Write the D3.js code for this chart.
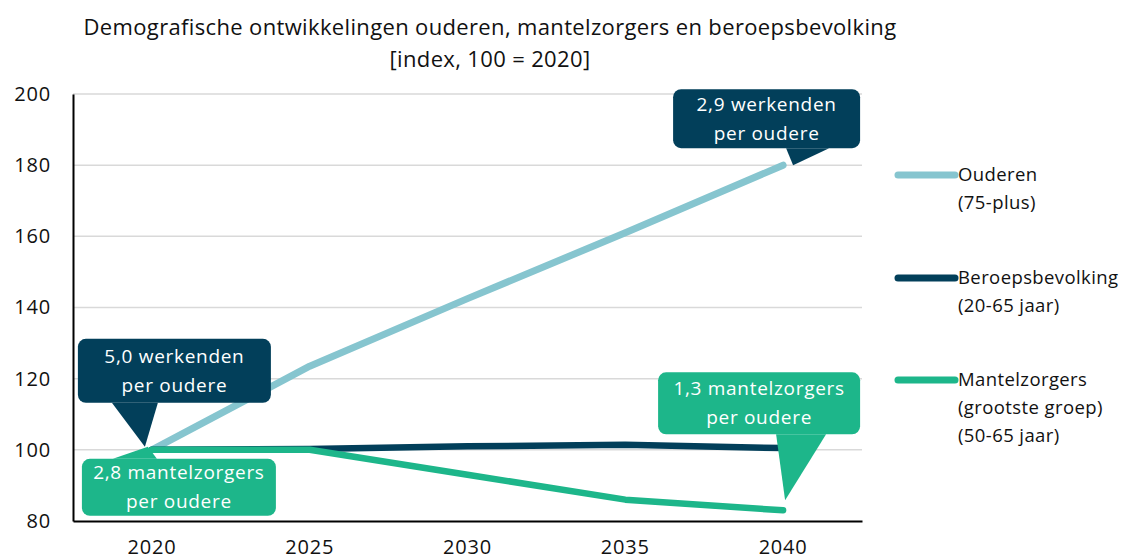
<!DOCTYPE html>
<html>
<head>
<meta charset="utf-8">
<script src="https://cdn.jsdelivr.net/npm/d3@7"></script>
<style>
  body { margin: 0; background: #fff; }
  svg { font-family: "Open Sans", Lato, sans-serif; }
</style>
</head>
<body>
<svg width="1130" height="560"></svg>
<script>
const years = ["2020", "2025", "2030", "2035", "2040"];
const ouderen = [100, 123.5, 142.5, 161, 180];
const beroeps = [100, 100.2, 101, 101.4, 100.5];
const mantel = [100, 100, 93, 86, 83];
const yTicks = [80, 100, 120, 140, 160, 180, 200];

const titleLines = [
  "Demografische ontwikkelingen ouderen, mantelzorgers en beroepsbevolking",
  "[index, 100 = 2020]"
];
const legendLines = [
  ["Ouderen", "(75-plus)"],
  ["Beroepsbevolking", "(20-65 jaar)"],
  ["Mantelzorgers", "(grootste groep)", "(50-65 jaar)"]
];
const colors = ["#86c5cf", "#023f5a", "#1db68a"];

const svg = d3.select("svg");
const margin = { left: 73, right: 862, top: 94, bottom: 521 };
const font = "'Open Sans', Lato, sans-serif";

const x = d3.scaleBand()
  .domain(years)
  .range([margin.left, margin.right]);

const y = d3.scaleLinear()
  .domain([80, 200])
  .range([margin.bottom, margin.top]);

const cx = d => x(d) + x.bandwidth() / 2;

// Title
svg.append("g")
  .selectAll("text")
  .data(titleLines)
  .enter()
  .append("text")
  .attr("x", 490)
  .attr("y", (d, i) => 35 + i * 32)
  .attr("text-anchor", "middle")
  .attr("font-size", 22)
  .attr("letter-spacing", 0.35)
  .attr("fill", "#111")
  .text(d => d);

// Gridlines
svg.append("g")
  .selectAll("line")
  .data(yTicks.slice(1))
  .enter()
  .append("line")
  .attr("x1", margin.left)
  .attr("x2", margin.right)
  .attr("y1", d => y(d))
  .attr("y2", d => y(d))
  .attr("stroke", "#d9d9d9")
  .attr("stroke-width", 1.5);

// Axes
const yAxis = d3.axisLeft(y)
  .tickValues(yTicks)
  .tickSize(0)
  .tickPadding(22);

const xAxis = d3.axisBottom(x)
  .tickSize(0)
  .tickPadding(19);

const gy = svg.append("g")
  .attr("transform", `translate(${margin.left},0)`)
  .call(yAxis);
gy.select(".domain").attr("stroke", "#000").attr("stroke-width", 2);
gy.selectAll("text").attr("font-size", 20).attr("letter-spacing", 0.8)
  .attr("fill", "#111").attr("font-family", font);

const gx = svg.append("g")
  .attr("transform", `translate(0,${margin.bottom})`)
  .call(xAxis);
gx.select(".domain").attr("stroke", "#000").attr("stroke-width", 2);
gx.selectAll("text").attr("font-size", 20).attr("letter-spacing", 0.8)
  .attr("fill", "#111").attr("font-family", font);

// Lines
const line = d3.line()
  .x((d, i) => cx(years[i]))
  .y(d => y(d));

const seriesData = [ouderen, beroeps, mantel];
const widths = [7, 6.5, 6.5];

svg.append("g")
  .selectAll("path")
  .data(seriesData)
  .enter()
  .append("path")
  .attr("d", d => line(d))
  .attr("fill", "none")
  .attr("stroke", (d, i) => colors[i])
  .attr("stroke-width", (d, i) => widths[i])
  .attr("stroke-linecap", "round")
  .attr("stroke-linejoin", "round");

// Callouts: box relative to anchor point, pointer triangle relative to anchor
const callouts = [
  { lines: ["5,0 werkenden", "per oudere"], color: colors[1], serie: ouderen, idx: 0,
    box: [-74, -111, 193, 64], ptr: [[-40, -47], [-7, -3], [6, -47]] },
  { lines: ["2,8 mantelzorgers", "per oudere"], color: colors[2], serie: mantel, idx: 0,
    box: [-70, 9, 194, 57], ptr: [[-39, 9], [-4, -3], [5, 9]] },
  { lines: ["2,9 werkenden", "per oudere"], color: colors[1], serie: ouderen, idx: 4,
    box: [-110, -76, 187, 59], ptr: [[3, -17], [10, 0], [46, -17]] },
  { lines: ["1,3 mantelzorgers", "per oudere"], color: colors[2], serie: mantel, idx: 4,
    box: [-125, -138, 202, 62], ptr: [[-7, -76], [2, -10], [43, -76]] }
];

const cg = svg.append("g")
  .selectAll("g")
  .data(callouts)
  .enter()
  .append("g")
  .attr("transform", d => `translate(${cx(years[d.idx])},${y(d.serie[d.idx])})`);

cg.append("rect")
  .attr("x", d => d.box[0])
  .attr("y", d => d.box[1])
  .attr("width", d => d.box[2])
  .attr("height", d => d.box[3])
  .attr("rx", 8)
  .attr("fill", d => d.color);

cg.append("path")
  .attr("d", d => "M" + d.ptr.map(p => p.join(",")).join("L") + "Z")
  .attr("fill", d => d.color);

cg.each(function(d) {
  const g = d3.select(this);
  const midX = d.box[0] + d.box[2] / 2;
  const midY = d.box[1] + d.box[3] / 2;
  g.selectAll("text")
    .data(d.lines)
    .enter()
    .append("text")
    .attr("x", midX)
    .attr("y", (t, i) => midY + (i - 0.5) * 29)
    .attr("dy", "0.35em")
    .attr("text-anchor", "middle")
    .attr("font-size", 19)
    .attr("letter-spacing", 0.7)
    .attr("fill", "#fff")
    .text(t => t);
});

// Legend
const legendY = [175, 278, 380];
const lg = svg.append("g")
  .selectAll("g")
  .data(legendLines)
  .enter()
  .append("g")
  .attr("transform", (d, i) => `translate(898,${legendY[i]})`);

lg.append("line")
  .attr("x1", 0)
  .attr("x2", 57)
  .attr("stroke", (d, i) => colors[i])
  .attr("stroke-width", 7)
  .attr("stroke-linecap", "round");

lg.selectAll("text")
  .data(d => d)
  .enter()
  .append("text")
  .attr("x", 60)
  .attr("y", (t, i) => i * 28)
  .attr("dy", "0.35em")
  .attr("font-size", 18.5)
  .attr("letter-spacing", 0.4)
  .attr("fill", "#111")
  .text(t => t);
</script>
</body>
</html>
